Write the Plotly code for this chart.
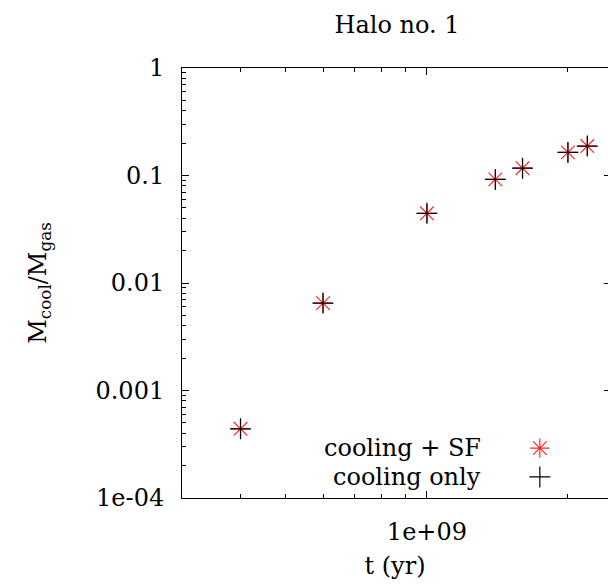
import plotly.graph_objects as go
import numpy as np

# data
t_yr = [4e8, 6e8, 1.0e9, 1.4e9, 1.6e9, 2.0e9, 2.2e9]
frac_cool_sf = [4.4e-4, 6.5e-3, 0.0445, 0.092, 0.117, 0.164, 0.188]
frac_cool_only = [4.4e-4, 6.5e-3, 0.0445, 0.092, 0.117, 0.164, 0.188]
series_names = ["cooling + SF", "cooling only"]
x_tickvals = [1e9]
x_ticktext = ["1e+09"]
y_tickvals = [1e-4, 1e-3, 1e-2, 1e-1, 1]
y_ticktext = ["1e-04", "0.001", "0.01", "0.1", "1"]

FONT = "DejaVu Serif"
FS = 24

x_minor = [m * 1e8 for m in range(3, 10)] + [2e9]
y_minor = [m * 10.0 ** e for e in range(-4, 0) for m in range(2, 10)]

RED = "rgba(255,0,0,0.85)"

fig = go.Figure()
fig.add_trace(go.Scatter(
    x=t_yr, y=frac_cool_sf, mode="markers", name=series_names[0],
    marker=dict(symbol="asterisk-open", size=16, color=RED,
                line=dict(color=RED, width=1.2)),
    showlegend=False))
fig.add_trace(go.Scatter(
    x=t_yr, y=frac_cool_only, mode="markers", name=series_names[1],
    marker=dict(symbol="cross-thin-open", size=15, color="black",
                line=dict(color="black", width=1.2)),
    showlegend=False))
# invisible trace binding the right-hand tick axis
fig.add_trace(go.Scatter(
    x=t_yr, y=frac_cool_sf, yaxis="y2", mode="markers",
    marker=dict(opacity=0), showlegend=False, hoverinfo="skip"))

# legend samples on an overlay unit axis
leg_y = [0.116, 0.049]
fig.add_trace(go.Scatter(
    x=[0.84], y=[leg_y[0]], xaxis="x2", yaxis="y3", mode="markers",
    marker=dict(symbol="asterisk-open", size=16, color=RED,
                line=dict(color=RED, width=1.2)),
    showlegend=False, hoverinfo="skip"))
fig.add_trace(go.Scatter(
    x=[0.84], y=[leg_y[1]], xaxis="x2", yaxis="y3", mode="markers",
    marker=dict(symbol="cross-thin-open", size=15, color="black",
                line=dict(color="black", width=1.2)),
    showlegend=False, hoverinfo="skip"))

for name, yy in zip(series_names, leg_y):
    fig.add_annotation(text=name, xref="paper", yref="paper", x=0.7066, y=yy,
                       xanchor="right", yanchor="middle", showarrow=False,
                       font=dict(family=FONT, size=FS, color="black"))

x_lo = np.log10(3e8)
x_hi = 9.3866

fig.update_layout(
    width=608, height=587,
    margin=dict(l=182, r=0, t=68, b=89),
    paper_bgcolor="white", plot_bgcolor="white",
    font=dict(family=FONT, size=FS, color="black"),
    title=dict(text="Halo no. 1", x=0.653, xanchor="center", y=0.958, yanchor="middle",
               font=dict(family=FONT, size=FS)),
    xaxis=dict(type="log", range=[x_lo, x_hi], showgrid=False, zeroline=False,
               showline=True, linecolor="black", linewidth=1, mirror="ticks",
               ticks="inside", ticklen=7, tickcolor="black", tickwidth=1,
               tickmode="array", tickvals=x_tickvals, ticktext=x_ticktext,
               ticklabelstandoff=12,
               minor=dict(tickmode="array", tickvals=x_minor, ticks="inside",
                          ticklen=4, tickcolor="black", tickwidth=1, showgrid=False),
               title=dict(text="t (yr)", standoff=12, font=dict(family=FONT, size=FS))),
    yaxis=dict(type="log", range=[-4, 0], showgrid=False, zeroline=False,
               showline=True, linecolor="black", linewidth=1, mirror=False,
               ticks="inside", ticklen=7, tickcolor="black", tickwidth=1,
               tickmode="array", tickvals=y_tickvals, ticktext=y_ticktext,
               ticklabelstandoff=12,
               minor=dict(tickmode="array", tickvals=y_minor, ticks="inside",
                          ticklen=4, tickcolor="black", tickwidth=1, showgrid=False),
               title=dict(text="M<sub>cool</sub>/M<sub>gas</sub>", standoff=42,
                          font=dict(family=FONT, size=FS))),
    yaxis2=dict(type="log", range=[-4, 0], overlaying="y", side="right",
                showgrid=False, zeroline=False, showline=False,
                ticks="inside", ticklen=4, tickcolor="black", tickwidth=1,
                tickmode="array", tickvals=y_tickvals, showticklabels=False),
    xaxis2=dict(overlaying="x", range=[0, 1], visible=False),
    yaxis3=dict(overlaying="y", range=[0, 1], visible=False),
)

fig.write_html("out.html")
